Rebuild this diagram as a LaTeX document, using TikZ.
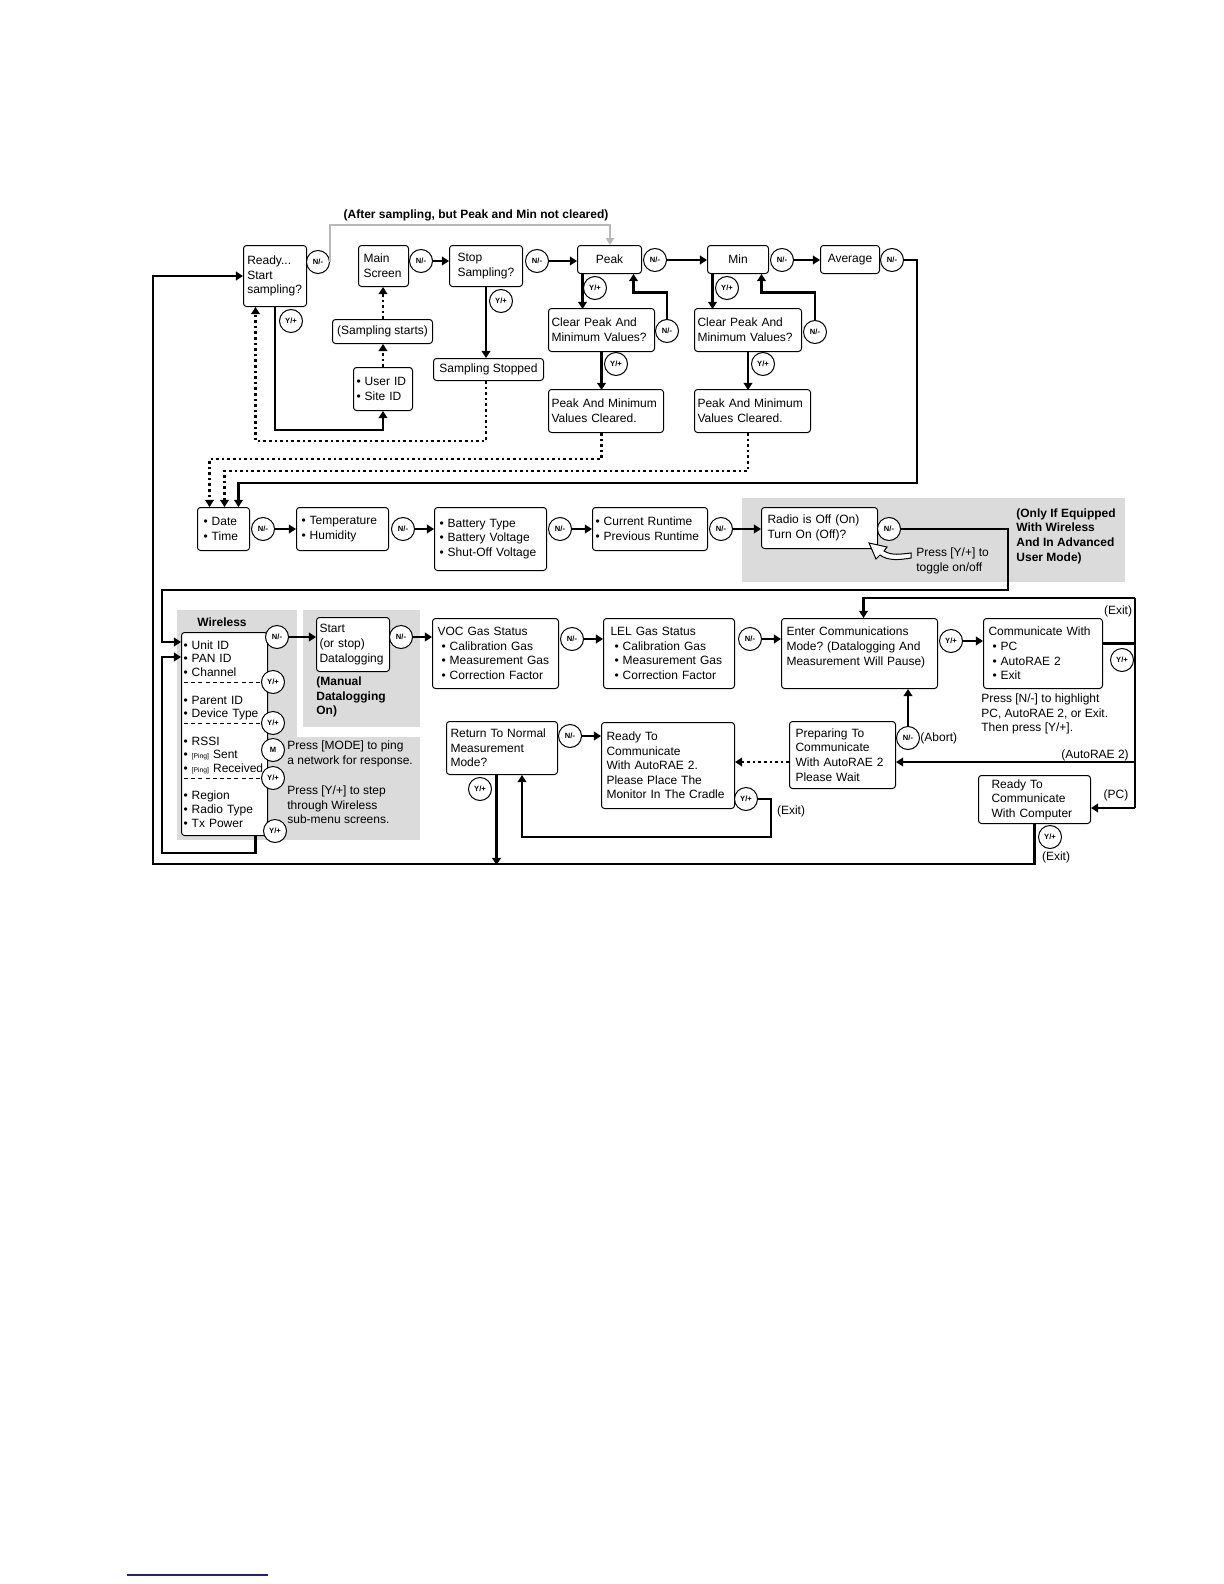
\documentclass[tikz,border=0pt]{standalone}
\usepackage{fontspec}
\setmainfont{Liberation Sans}
\usetikzlibrary{arrows.meta}
\frenchspacing
\definecolor{panelgrey}{gray}{0.86}
\definecolor{feedgrey}{gray}{0.72}
\definecolor{rulenavy}{RGB}{30,30,140}
\newcommand\boxfont{\fontsize{6}{7.3}\selectfont}
\newcommand\keyfont{\fontsize{3.8}{4}\selectfont\bfseries}
\newcommand\pingtag{{\fontsize{3.4}{4}\selectfont[Ping]}}
\newcommand\subitm{\hspace*{2pt}•\ }
\tikzset{
  box/.style={draw, line width=0.5pt, rounded corners=1.5pt, fill=white,
    anchor=north west, align=left, inner ysep=1pt, font=\boxfont},
  cbox/.style={box, align=center, inner xsep=1pt},
  btn/.style={circle, draw, line width=0.5pt, fill=white, inner sep=0pt,
    minimum size=11.5pt, font=\keyfont},
  flow/.style={line width=1.3pt, -{Triangle[length=3.6pt,width=4.4pt]}},
  link/.style={line width=1.3pt},
  dotflow/.style={flow, dash pattern=on 1.3pt off 1.5pt},
  feed/.style={line width=1pt, draw=feedgrey, -{Triangle[length=3.4pt,width=4pt]}},
  panel/.style={fill=panelgrey},
  note/.style={font=\boxfont, align=left, inner sep=0pt},
  bnote/.style={note, font=\boxfont\bfseries},
  wlsep/.style={line width=0.5pt, dash pattern=on 2pt off 1.6pt},
}
\begin{document}
\begin{tikzpicture}[x=0.5pt, y=-0.5pt]
\useasboundingbox (0,0) rectangle (1224,1584);
% grey panels
\fill[panel] (742,498) rectangle (1125,582);
\fill[panel] (177,610) rectangle (297,840);
\fill[panel] (297,737) rectangle (420,840);
\fill[panel] (303,610) rectangle (420,727);

% sampling row
\node[box, inner xsep=1.9pt, text width=27.7pt, minimum height=30.5pt] (ready) at (243,245) {Ready...\\Start\\sampling?};
\node[box, inner xsep=2.5pt, text width=20pt, minimum height=20.5pt] (mainscr) at (358,245) {Main\\Screen};
\node[box, inner xsep=4pt, text width=28.5pt, minimum height=20.5pt] (stopq) at (449,245) {Stop\\Sampling?};
\node[cbox, minimum width=32pt, minimum height=14pt] (peak) at (577,245) {Peak};
\node[cbox, minimum width=30.5pt, minimum height=14pt] (minb) at (707,245) {Min};
\node[cbox, minimum width=29.5pt, minimum height=14pt] (avg) at (820,245) {Average};
\node[cbox, minimum width=50pt, minimum height=12pt] (startsamp) at (332,319) {(Sampling starts)};
\node[box, inner xsep=1.5pt, text width=26.5pt, minimum height=21.5pt] (userid) at (353,367) {• User ID\\• Site ID};
\node[cbox, minimum width=55pt, minimum height=11pt] (sampstop) at (433,358) {Sampling Stopped};
\node[box, inner xsep=1.5pt, text width=50pt, minimum height=21.5pt] (clear1) at (548,308) {Clear Peak And\\Minimum Values?};
\node[box, inner xsep=1.5pt, text width=50.5pt, minimum height=21.5pt] (clear2) at (694,308) {Clear Peak And\\Minimum Values?};
\node[box, inner xsep=1.5pt, text width=54.5pt, minimum height=21.5pt] (cleared1) at (548,389) {Peak And Minimum\\Values Cleared.};
\node[box, inner xsep=1.5pt, text width=55pt, minimum height=21.5pt] (cleared2) at (694,389) {Peak And Minimum\\Values Cleared.};

% info row
\node[box, inner xsep=3pt, text width=20pt, minimum height=21.5pt] (datebox) at (197,507) {• Date\\• Time};
\node[box, inner xsep=2.5pt, text width=41pt, minimum height=21.5pt] (temp) at (296,507) {• Temperature\\• Humidity};
\node[box, inner xsep=2.5pt, text width=51pt, minimum height=31.5pt] (batt) at (434,507) {• Battery Type\\• Battery Voltage\\• Shut-Off Voltage};
\node[box, inner xsep=1.5pt, text width=54.5pt, minimum height=21.5pt] (runtime) at (592,507) {• Current Runtime\\• Previous Runtime};
\node[box, inner xsep=3pt, text width=52pt, minimum height=20.5pt] (radio) at (761,507) {Radio is Off (On)\\Turn On (Off)?};

% wireless and communications
\node[box, inner xsep=1pt, text width=41pt, minimum height=101.5pt, font=\fontsize{6}{6.85}\selectfont] (wl) at (181,632)
  {• Unit ID\\• PAN ID\\• Channel\\\mbox{}\\• Parent ID\\• Device Type\\\mbox{}\\• RSSI\\• \pingtag\ Sent\\• \pingtag\ Received\\\mbox{}\\• Region\\• Radio Type\\• Tx Power};
\node[box, inner xsep=1.5pt, text width=33.5pt, minimum height=27pt] (dlog) at (316,617) {Start\\(or stop)\\Datalogging};
\node[box, inner xsep=2.5pt, text width=58pt, minimum height=35pt] (voc) at (432,618) {VOC Gas Status\\\subitm Calibration Gas\\\subitm Measurement Gas\\\subitm Correction Factor};
\node[box, inner xsep=3.5pt, text width=58.5pt, minimum height=35pt] (lel) at (603,618) {LEL Gas Status\\\subitm Calibration Gas\\\subitm Measurement Gas\\\subitm Correction Factor};
\node[box, inner xsep=2.5pt, text width=73pt, minimum height=35pt] (enter) at (781,618) {Enter Communications\\Mode? (Datalogging And\\Measurement Will Pause)\\\mbox{}};
\node[box, inner xsep=2.5pt, text width=54.5pt, minimum height=35pt] (comm) at (983,618) {Communicate With\\\subitm PC\\\subitm AutoRAE 2\\\subitm Exit};
\node[box, inner xsep=2pt, text width=51.5pt, minimum height=26.5pt] (ret) at (446,721) {Return To Normal\\Measurement\\Mode?};
\node[box, inner xsep=2.5pt, text width=61.5pt, minimum height=43pt] (rdyauto) at (601,722) {Ready To\\Communicate\\With AutoRAE 2.\\Please Place The\\Monitor In The Cradle};
\node[box, inner xsep=3pt, text width=47pt, minimum height=33.5pt] (prep) at (789,721) {Preparing To\\Communicate\\With AutoRAE 2\\Please Wait};
\node[box, inner xsep=6.5pt, text width=43pt, minimum height=24pt] (rdypc) at (978,775) {Ready To\\Communicate\\With Computer};

\foreach \sy in {682,723,778} \draw[wlsep] (184,\sy) -- (262,\sy);
\filldraw[fill=white, line width=0.5pt] (869,543) -- (887,547) -- (884,551)
  .. controls (892,556) and (901,554) .. (911,553) -- (911,558)
  .. controls (899,560) and (888,561) .. (880,555) -- (876,559) -- cycle;

% keys
\node[btn] (n1) at (318,262) {N/-};
\node[btn] (n2) at (421,261) {N/-};
\node[btn] (n3) at (537,261) {N/-};
\node[btn] (n4) at (655,260) {N/-};
\node[btn] (n5) at (782,260) {N/-};
\node[btn] (n6) at (892,260) {N/-};
\node[btn] (y1) at (291,321) {Y/+};
\node[btn] (ys) at (501,301) {Y/+};
\node[btn] (yp1) at (595,288) {Y/+};
\node[btn] (np1) at (667,331) {N/-};
\node[btn] (yp2) at (616,364) {Y/+};
\node[btn] (ym1) at (727,288) {Y/+};
\node[btn] (nm1) at (815,332) {N/-};
\node[btn] (ym2) at (763,364) {Y/+};
\node[btn] (nd) at (263,529) {N/-};
\node[btn] (nt) at (403,529) {N/-};
\node[btn] (nb) at (560,529) {N/-};
\node[btn] (nr) at (721,529) {N/-};
\node[btn] (nrad) at (889,529) {N/-};
\node[btn] (nw) at (277,637) {N/-};
\node[btn] (yw1) at (273,682) {Y/+};
\node[btn] (yw2) at (273,723) {Y/+};
\node[btn] (mw) at (273,750) {M};
\node[btn] (yw3) at (273,778) {Y/+};
\node[btn] (yw4) at (275,831) {Y/+};
\node[btn] (ndl) at (401,637) {N/-};
\node[btn] (nv) at (572,639) {N/-};
\node[btn] (nl) at (750,639) {N/-};
\node[btn] (ye) at (951,641) {Y/+};
\node[btn] (yc) at (1122,660) {Y/+};
\node[btn] (nret) at (570,736) {N/-};
\node[btn] (yret) at (480,789) {Y/+};
\node[btn] (yra) at (746,799) {Y/+};
\node[btn] (nprep) at (908,738) {N/-};
\node[btn] (ypc) at (1050,837) {Y/+};

% notes
\node[bnote] (feedlbl) at (476,215) {(After sampling, but Peak and Min not cleared)};
\node[note, anchor=west] (toggle) at (916,561) {Press [Y/+] to\\toggle on/off};
\node[bnote, anchor=west] (onlyif) at (1016,536) {(Only If Equipped\\With Wireless\\And In Advanced\\User Mode)};
\node[bnote] (wltitle) at (222,622) {Wireless};
\node[bnote, anchor=west] (manual) at (316,697) {(Manual\\Datalogging\\On)};
\node[note, anchor=west] (pingnote) at (287,754) {Press [MODE] to ping\\a network for response.};
\node[note, anchor=west] (stepnote) at (287,805) {Press [Y/+] to step\\through Wireless\\sub-menu screens.};
\node[note, anchor=west] (hilite) at (981,714) {Press [N/-] to highlight\\PC, AutoRAE 2, or Exit.\\Then press [Y/+].};
\node[note, anchor=west] (abort) at (920,738) {(Abort)};
\node[note] (exittop) at (1118,611) {(Exit)};
\node[note] (autolbl) at (1095,755) {(AutoRAE 2)};
\node[note] (pclbl) at (1116,795) {(PC)};
\node[note] (exitpc) at (1056,857) {(Exit)};
\node[note] (exitauto) at (791,811) {(Exit)};

% sampling connectors
\coordinate (feedtop) at (610,225);
\draw[feed] (n1.east) |- (feedtop) -- (feedtop |- peak.north);
\draw[flow] (n2.east) -- (n2.east -| stopq.west);
\draw[flow] (n3.east) -- (n3.east -| peak.west);
\draw[flow] (n4.east) -- (n4.east -| minb.west);
\draw[flow] (n5.east) -- (n5.east -| avg.west);
\draw[flow] (ready.south) -- ++(0,123) -| (userid.south);
\draw[dotflow] (userid.north) -- (userid.north |- startsamp.south);
\draw[dotflow] (userid.north |- startsamp.north) -- (userid.north |- mainscr.south);
\draw[flow] (stopq.south) -- (stopq.south |- sampstop.north);
\draw[dotflow] (stopq.south |- sampstop.south) -- ++(0,60) -| ([xshift=-9.75pt]ready.south);
\draw[flow] ([xshift=-13.5pt]peak.south) -- ++(0,35);
\draw[flow] (np1.north) -- ++(0,-26.5) -| ([xshift=12pt]peak.south);
\draw[flow] (clear1.south) -- ++(0,38);
\draw[flow] ([xshift=-12.75pt]minb.south) -- ++(0,35);
\draw[flow] (nm1.north) -- ++(0,-27.5) -| ([xshift=11.75pt]minb.south);
\draw[flow] (clear2.south) -- ++(0,38);
\draw[dotflow] (clear1.south |- cleared1.south) -- ++(0,26) -| ([xshift=-7pt]datebox.north);
\draw[dotflow] (clear2.south |- cleared2.south) -- ++(0,38) -| ([xshift=0.5pt]datebox.north);
\coordinate (avgdown) at (917,483);
\draw[flow] (n6.east) -| (avgdown) -| ([xshift=7.5pt]datebox.north);

% info connectors
\draw[flow] (nd.east) -- (nd.east -| temp.west);
\draw[flow] (nt.east) -- (nt.east -| batt.west);
\draw[flow] (nb.east) -- (nb.east -| runtime.west);
\draw[flow] (nr.east) -- (nr.east -| radio.west);
\coordinate (radiodown) at (1008,590);
\coordinate (wlin) at (162,642);
\draw[flow] (nrad.east) -| (radiodown) -| (wlin) -- (wlin -| wl.west);
\coordinate (panin) at (162,657);
\draw[flow] ([xshift=15.5pt]wl.south) -- ++(0,17) -| (panin) -- (panin -| wl.west);

% communications connectors
\draw[flow] (nw.east) -- (nw.east -| dlog.west);
\draw[flow] (ndl.east) -- (ndl.east -| voc.west);
\draw[flow] (nv.east) -- (nv.east -| lel.west);
\draw[flow] (nl.east) -- (nl.east -| enter.west);
\draw[flow] (ye.east) -- (ye.east -| comm.west);
\draw[flow] (nret.east) -- (nret.east -| rdyauto.west);
\coordinate (bustop) at (1135,598);
\coordinate (autoin) at (1135,762);
\coordinate (busbot) at (1135,808);
\draw[link] ([yshift=5pt]comm.east) -- ++(33,0);
\draw[link] (busbot) -- (bustop);
\draw[flow] (bustop) -| ([xshift=2pt]enter.north);
\draw[flow] (autoin) -- (autoin -| prep.east);
\draw[flow] (busbot) -- (busbot -| rdypc.east);
\draw[dotflow] (autoin -| prep.west) -- (autoin -| rdyauto.east);
\draw[flow] (nprep.north) -- (nprep.north |- enter.south);
\coordinate (exitturn) at (771,837);
\draw[flow] (yra.east) -| (exitturn) -| ([xshift=10pt]ret.south);
\draw[flow] ([xshift=-2.75pt]ret.south) -- ++(0,90);
\coordinate (backbot) at (153,864);
\draw[flow] (rdypc.south) |- (backbot) |- (ready.west);

\draw[rulenavy, line width=0.8pt] (127,1575) -- (268,1575);
\end{tikzpicture}
\end{document}
